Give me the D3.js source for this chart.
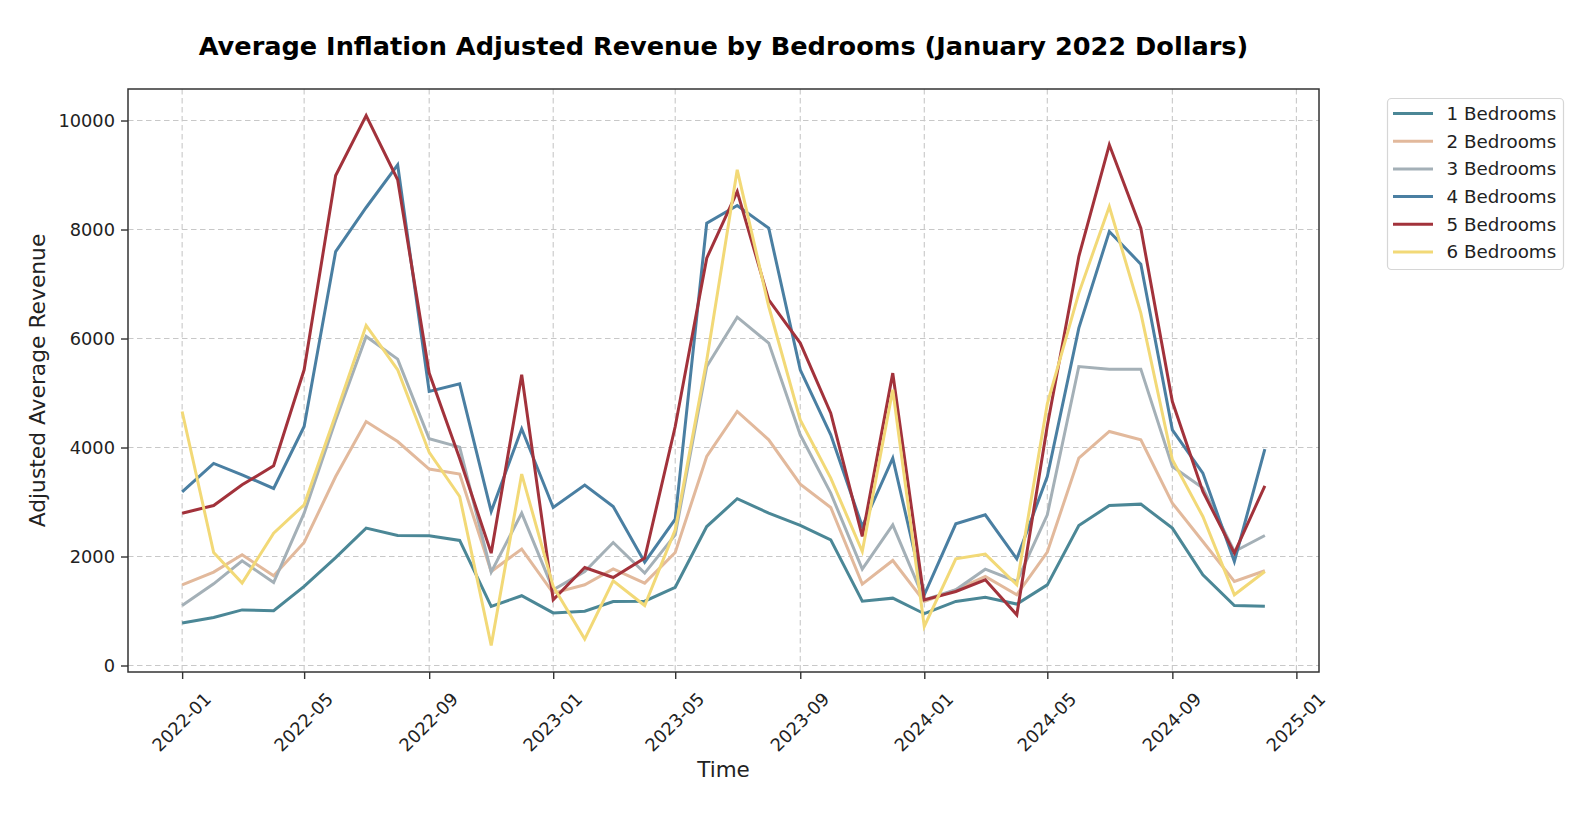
<!DOCTYPE html>
<html>
<head>
<meta charset="utf-8">
<script src="https://cdn.jsdelivr.net/npm/d3@7"></script>
<style>
  html, body { margin: 0; padding: 0; background: #fff; }
  svg text { font-family: "DejaVu Sans", sans-serif; }
</style>
</head>
<body>
<svg id="chart" width="1594" height="824"></svg>
<script>
const months = ["2022-01","2022-02","2022-03","2022-04","2022-05","2022-06","2022-07","2022-08","2022-09","2022-10","2022-11","2022-12",
  "2023-01","2023-02","2023-03","2023-04","2023-05","2023-06","2023-07","2023-08","2023-09","2023-10","2023-11","2023-12",
  "2024-01","2024-02","2024-03","2024-04","2024-05","2024-06","2024-07","2024-08","2024-09","2024-10","2024-11","2024-12"];

const seriesNames = ["1 Bedrooms","2 Bedrooms","3 Bedrooms","4 Bedrooms","5 Bedrooms","6 Bedrooms"];
const seriesColors = ["#4b8796","#e2b99c","#a4b0b7","#4a7fa2","#a2323b","#f2d977"];

const br1 = [780, 880, 1020, 1005, 1450, 1980, 2520, 2385, 2380, 2295, 1085, 1280, 965, 995, 1175, 1180, 1435, 2550, 3060, 2796, 2570, 2306, 1180, 1236, 950, 1175, 1250, 1127, 1480, 2570, 2936, 2961, 2521, 1664, 1101, 1085];
const br2 = [1480, 1713, 2031, 1646, 2257, 3468, 4477, 4110, 3604, 3512, 1725, 2136, 1328, 1481, 1774, 1512, 2073, 3835, 4661, 4141, 3328, 2899, 1493, 1927, 1174, 1389, 1633, 1297, 2081, 3805, 4294, 4141, 2980, 2275, 1541, 1738];
const br3 = [1101, 1499, 1921, 1523, 2795, 4500, 6037, 5622, 4160, 4007, 1713, 2795, 1389, 1725, 2257, 1695, 2398, 5486, 6392, 5916, 4233, 3163, 1768, 2581, 1205, 1389, 1768, 1541, 2765, 5486, 5438, 5438, 3651, 3255, 2092, 2385];
const br4 = [3187, 3707, 3499, 3248, 4386, 7596, 8404, 9187, 5028, 5169, 2826, 4343, 2899, 3310, 2918, 1897, 2686, 8117, 8440, 8025, 5426, 4233, 2550, 3805, 1297, 2600, 2765, 1958, 3468, 6190, 7963, 7365, 4325, 3530, 1908, 3970];
const br5 = [2795, 2936, 3316, 3664, 5426, 8991, 10092, 8912, 5365, 3800, 2062, 5334, 1205, 1798, 1615, 1970, 4386, 7475, 8697, 6710, 5916, 4631, 2367, 5365, 1205, 1358, 1572, 930, 4400, 7505, 9554, 8025, 4844, 3193, 2062, 3297];
const br6 = [4661, 2073, 1512, 2429, 2949, 4600, 6239, 5426, 3910, 3101, 367, 3512, 1450, 484, 1554, 1101, 2490, 5600, 9095, 6587, 4508, 3438, 2092, 5059, 716, 1958, 2044, 1481, 4800, 6833, 8422, 6466, 3774, 2734, 1297, 1725];

const yTicks = [0, 2000, 4000, 6000, 8000, 10000];
const xTickLabels = ["2022-01","2022-05","2022-09","2023-01","2023-05","2023-09","2024-01","2024-05","2024-09","2025-01"];

const titleText = "Average Inflation Adjusted Revenue by Bedrooms (January 2022 Dollars)";
const xLabel = "Time";
const yLabel = "Adjusted Average Revenue";

const allSeries = [br1, br2, br3, br4, br5, br6];

const parse = d3.timeParse("%Y-%m");
const dates = months.map(parse);

const svg = d3.select("#chart");
const L = 128, R = 1319, T = 89, B = 672;

// x domain with 5% margins (matplotlib style)
const t0 = +dates[0], t1 = +dates[dates.length - 1];
const xpad = (t1 - t0) * 0.05;
const x = d3.scaleTime().domain([new Date(t0 - xpad), new Date(t1 + xpad)]).range([L, R]);

const allVals = allSeries.flat();
const vmin = d3.min(allVals), vmax = d3.max(allVals);
const ypad = (vmax - vmin) * 0.05;
const y = d3.scaleLinear().domain([vmin - ypad, vmax + ypad]).range([B, T]);

const xTickDates = xTickLabels.map(parse);

// grid
const grid = svg.append("g");
grid.selectAll(".gx").data(xTickDates).join("line")
  .attr("x1", d => x(d)).attr("x2", d => x(d)).attr("y1", T).attr("y2", B)
  .attr("stroke", "#c8c8c8").attr("stroke-width", 1.1).attr("stroke-dasharray", "5.5,3.5");
grid.selectAll(".gy").data(yTicks).join("line")
  .attr("x1", L).attr("x2", R).attr("y1", d => y(d)).attr("y2", d => y(d))
  .attr("stroke", "#c8c8c8").attr("stroke-width", 1.1).attr("stroke-dasharray", "5.5,3.5");

// lines
const line = d3.line().x((d, i) => x(dates[i])).y(d => y(d));
svg.append("g").selectAll("path").data(allSeries).join("path")
  .attr("d", d => line(d))
  .attr("fill", "none")
  .attr("stroke", (d, i) => seriesColors[i])
  .attr("stroke-width", 3)
  .attr("stroke-linejoin", "miter")
  .attr("stroke-linecap", "butt");

// frame
svg.append("rect").attr("x", L).attr("y", T).attr("width", R - L).attr("height", B - T)
  .attr("fill", "none").attr("stroke", "#333").attr("stroke-width", 1.5);

// y axis
const yAxis = d3.axisLeft(y).tickValues(yTicks).tickSize(7).tickPadding(6).tickFormat(d3.format("d"));
const gy = svg.append("g").attr("transform", `translate(${L},0)`).call(yAxis);
gy.select(".domain").remove();
gy.selectAll(".tick line").attr("stroke", "#333").attr("stroke-width", 1.4);
gy.selectAll(".tick text").attr("font-size", 17.8).attr("fill", "#222").attr("font-family", "DejaVu Sans");

// x axis
const xAxis = d3.axisBottom(x).tickValues(xTickDates).tickSize(7).tickFormat(d3.timeFormat("%Y-%m"));
const gx = svg.append("g").attr("transform", `translate(0,${B})`).call(xAxis);
gx.select(".domain").remove();
gx.selectAll(".tick line").attr("stroke", "#333").attr("stroke-width", 1.4);
gx.selectAll(".tick text")
  .attr("font-size", 17.8).attr("fill", "#222").attr("font-family", "DejaVu Sans")
  .attr("text-anchor", "middle")
  .attr("y", 0).attr("dy", "0.35em")
  .attr("transform", "translate(-1,50) rotate(-45)");

// labels
svg.append("text").attr("x", (L + R) / 2).attr("y", 55)
  .attr("text-anchor", "middle").attr("font-size", 25.6).attr("font-weight", "bold").attr("fill", "#000")
  .text(titleText);
svg.append("text").attr("x", (L + R) / 2).attr("y", 777)
  .attr("text-anchor", "middle").attr("font-size", 21.5).attr("fill", "#222")
  .text(xLabel);
svg.append("text").attr("transform", `translate(45,${(T + B) / 2}) rotate(-90)`)
  .attr("text-anchor", "middle").attr("font-size", 21.8).attr("fill", "#222")
  .text(yLabel);

// legend
const lg = svg.append("g");
lg.append("rect").attr("x", 1387.5).attr("y", 98.5).attr("width", 176).attr("height", 171).attr("rx", 4)
  .attr("fill", "#fff").attr("stroke", "#d6d6d6").attr("stroke-width", 1.2);
seriesNames.forEach((name, i) => {
  const cy = 113.5 + i * 27.7;
  lg.append("line").attr("x1", 1393).attr("x2", 1433).attr("y1", cy).attr("y2", cy)
    .attr("stroke", seriesColors[i]).attr("stroke-width", 3);
  lg.append("text").attr("x", 1446.5).attr("y", cy).attr("dy", "0.35em")
    .attr("font-size", 18.3).attr("fill", "#222").text(name);
});
</script>
</body>
</html>
